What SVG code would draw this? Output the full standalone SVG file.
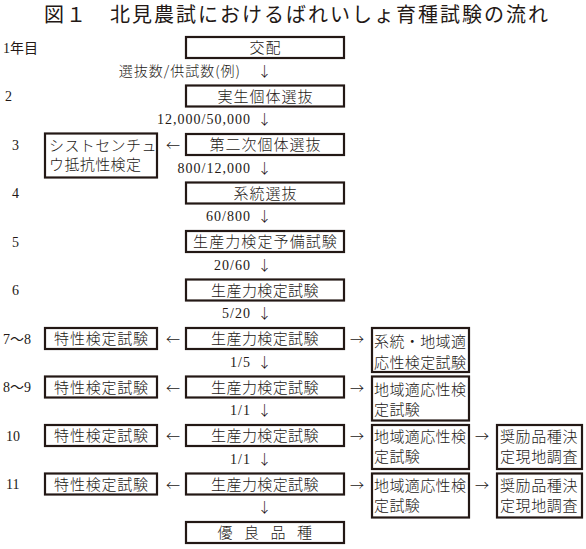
<svg xmlns="http://www.w3.org/2000/svg" width="586" height="549" viewBox="0 0 586 549">
<style>
.bx{fill:#fff;stroke:#231815;stroke-width:2.2}
.t{font-family:"Noto Sans CJK JP","Noto Sans CJK SC",sans-serif;font-size:15px;font-weight:300;fill:#231815}
.c{text-anchor:middle}
.lb{font-family:"Liberation Serif","Noto Sans CJK JP",serif;font-size:14px;fill:#231815}
.n{font-family:"Liberation Serif",serif;font-size:14px;fill:#231815;text-anchor:end;letter-spacing:1px}
.j{font-family:"Noto Sans CJK JP",sans-serif;font-size:14px;font-weight:300;fill:#231815}
.ar{font-family:"Noto Sans CJK JP",sans-serif;font-size:14px;font-weight:300;fill:#231815;text-anchor:middle}
.ttl{font-family:"Noto Sans CJK JP",sans-serif;font-size:20px;font-weight:400;fill:#231815;letter-spacing:2px}
</style>
<rect width="586" height="549" fill="#fff"/>
<text class="ttl" x="44" y="22">図１　北見農試におけるばれいしょ育種試験の流れ</text>

<g id="year-labels">
<text class="lb" x="3" y="52.5">1年目</text>
<text class="lb" x="5" y="101">2</text>
<text class="lb" x="12" y="150">3</text>
<text class="lb" x="12" y="198">4</text>
<text class="lb" x="12" y="246.5">5</text>
<text class="lb" x="12" y="295">6</text>
<text class="lb" x="3" y="343.5">7～8</text>
<text class="lb" x="3" y="392">8～9</text>
<text class="lb" x="6" y="440.5">10</text>
<text class="lb" x="6" y="489">11</text>
</g>

<g id="n1"><rect class="bx" x="186" y="37" width="158" height="21"/><text class="t c" x="265.5" y="53" letter-spacing="1">交配</text></g>
<g id="n2"><rect class="bx" x="186" y="85.5" width="158" height="21"/><text class="t c" x="265.5" y="101.5" letter-spacing="1">実生個体選抜</text></g>
<g id="n3"><rect class="bx" x="186" y="134" width="158" height="21"/><text class="t c" x="265.5" y="150" letter-spacing="1">第二次個体選抜</text></g>
<g id="n3L"><rect class="bx" x="45" y="133.5" width="112" height="44"/><text class="t" x="49" y="151" letter-spacing="0.4">シストセンチュ</text><text class="t" x="49" y="170" letter-spacing="0.4">ウ抵抗性検定</text></g>
<g id="n4"><rect class="bx" x="186" y="182.5" width="158" height="21"/><text class="t c" x="265.5" y="198.5" letter-spacing="1">系統選抜</text></g>
<g id="n5"><rect class="bx" x="186" y="231" width="158" height="21"/><text class="t c" x="265.5" y="247" letter-spacing="1.1">生産力検定予備試験</text></g>
<g id="n6"><rect class="bx" x="186" y="279.5" width="158" height="21"/><text class="t c" x="265" y="295.5" letter-spacing="0.4">生産力検定試験</text></g>

<g id="n7"><rect class="bx" x="186" y="328" width="158" height="21"/><text class="t c" x="265" y="344" letter-spacing="0.4">生産力検定試験</text></g>
<g id="n7L"><rect class="bx" x="45" y="328" width="112" height="21"/><text class="t c" x="101.5" y="344" letter-spacing="0.8">特性検定試験</text></g>
<g id="n7R"><rect class="bx" x="372" y="328" width="97" height="44"/><text class="t" x="374" y="347" letter-spacing="0.4">系統・地域適</text><text class="t" x="374" y="368" letter-spacing="0.4">応性検定試験</text></g>

<g id="n8"><rect class="bx" x="186" y="376.5" width="158" height="21"/><text class="t c" x="265" y="392.5" letter-spacing="0.4">生産力検定試験</text></g>
<g id="n8L"><rect class="bx" x="45" y="376.5" width="112" height="21"/><text class="t c" x="101.5" y="392.5" letter-spacing="0.8">特性検定試験</text></g>
<g id="n8R"><rect class="bx" x="372" y="376.5" width="97" height="44"/><text class="t" x="374" y="395" letter-spacing="0.4">地域適応性検</text><text class="t" x="374" y="415" letter-spacing="0.4">定試験</text></g>

<g id="n10"><rect class="bx" x="186" y="425" width="158" height="21"/><text class="t c" x="265" y="441" letter-spacing="0.4">生産力検定試験</text></g>
<g id="n10L"><rect class="bx" x="45" y="425" width="112" height="21"/><text class="t c" x="101.5" y="441" letter-spacing="0.8">特性検定試験</text></g>
<g id="n10R"><rect class="bx" x="372" y="425" width="97" height="44"/><text class="t" x="374" y="442" letter-spacing="0.4">地域適応性検</text><text class="t" x="374" y="462" letter-spacing="0.4">定試験</text></g>
<g id="n10RR"><rect class="bx" x="497" y="425" width="85" height="44"/><text class="t" x="500" y="442" letter-spacing="0.6">奨励品種決</text><text class="t" x="500" y="462" letter-spacing="0.6">定現地調査</text></g>

<g id="n11"><rect class="bx" x="186" y="473.5" width="158" height="21"/><text class="t c" x="265" y="489.5" letter-spacing="0.4">生産力検定試験</text></g>
<g id="n11L"><rect class="bx" x="45" y="473.5" width="112" height="21"/><text class="t c" x="101.5" y="489.5" letter-spacing="0.8">特性検定試験</text></g>
<g id="n11R"><rect class="bx" x="372" y="473.5" width="97" height="44"/><text class="t" x="374" y="490.5" letter-spacing="0.4">地域適応性検</text><text class="t" x="374" y="510.5" letter-spacing="0.4">定試験</text></g>
<g id="n11RR"><rect class="bx" x="497" y="473.5" width="85" height="44"/><text class="t" x="500" y="490.5" letter-spacing="0.6">奨励品種決</text><text class="t" x="500" y="510.5" letter-spacing="0.6">定現地調査</text></g>

<g id="n12"><rect class="bx" x="186" y="522" width="158" height="21"/><text class="t c" x="270.5" y="538" letter-spacing="11.5">優良品種</text></g>

<g id="connectors">
<text class="j" x="241" y="75.5" text-anchor="end" letter-spacing="1">選抜数/供試数(例)</text>
<text class="n" x="251" y="124">12,000/50,000</text>
<text class="n" x="251" y="172.5">800/12,000</text>
<text class="n" x="251" y="221">60/800</text>
<text class="n" x="251" y="269.5">20/60</text>
<text class="n" x="251" y="318">5/20</text>
<text class="n" x="251" y="366.5">1/5</text>
<text class="n" x="251" y="415">1/1</text>
<text class="n" x="251" y="463.5">1/1</text>
<text class="ar" x="264.5" y="75.5">↓</text>
<text class="ar" x="264.5" y="124">↓</text>
<text class="ar" x="264.5" y="172.5">↓</text>
<text class="ar" x="264.5" y="221">↓</text>
<text class="ar" x="264.5" y="269.5">↓</text>
<text class="ar" x="264.5" y="318">↓</text>
<text class="ar" x="264.5" y="366.5">↓</text>
<text class="ar" x="264.5" y="415">↓</text>
<text class="ar" x="264.5" y="463.5">↓</text>
<text class="ar" x="264.5" y="512">↓</text>
<text class="ar" x="173" y="150">←</text>
<text class="ar" x="173" y="344">←</text>
<text class="ar" x="173" y="392.5">←</text>
<text class="ar" x="173" y="441">←</text>
<text class="ar" x="173" y="489.5">←</text>
<text class="ar" x="357" y="344">→</text>
<text class="ar" x="357" y="392.5">→</text>
<text class="ar" x="357" y="441">→</text>
<text class="ar" x="357" y="489.5">→</text>
<text class="ar" x="482" y="441">→</text>
<text class="ar" x="482" y="489.5">→</text>
</g>
</svg>
